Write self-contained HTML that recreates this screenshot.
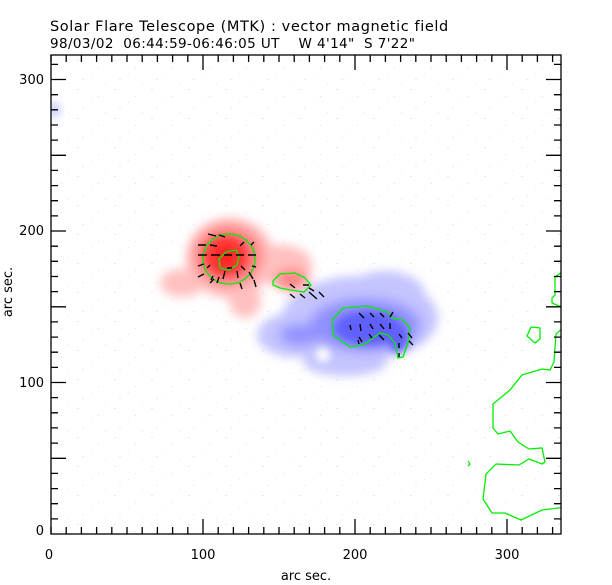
<!DOCTYPE html>
<html><head><meta charset="utf-8"><style>
html,body{margin:0;padding:0;background:#fff;}
svg{display:block;font-family:"DejaVu Sans","Liberation Sans",sans-serif;}
text{white-space:pre;}
</style></head><body>
<svg width="612" height="585" viewBox="0 0 612 585" xmlns="http://www.w3.org/2000/svg">
<defs>
<filter id="b8" x="-50%" y="-50%" width="200%" height="200%"><feGaussianBlur stdDeviation="6"/></filter>
<filter id="b5" x="-50%" y="-50%" width="200%" height="200%"><feGaussianBlur stdDeviation="4"/></filter>
<filter id="b12" x="-50%" y="-50%" width="200%" height="200%"><feGaussianBlur stdDeviation="5"/></filter>
<clipPath id="pc"><rect x="51" y="55" width="510" height="479"/></clipPath>
<pattern id="noise" width="37" height="29" patternUnits="userSpaceOnUse">
<rect x="3" y="2" width="2" height="1" fill="#e4e4ff"/><rect x="24" y="9" width="1" height="1" fill="#dcdcff"/><rect x="8" y="21" width="2" height="1" fill="#e8e8ff"/><rect x="31" y="25" width="1" height="1" fill="#e4e4ff"/><rect x="17" y="15" width="1" height="1" fill="#e8e8ff"/>
</pattern>
</defs>
<text x="50" y="31" font-size="14.5" letter-spacing="0.6" fill="#000">Solar Flare Telescope (MTK) : vector magnetic field</text>
<text x="50" y="48" font-size="13.5" letter-spacing="0.4" fill="#000">98/03/02  06:44:59-06:46:05 UT    W 4'14"  S 7'22"</text>
<g clip-path="url(#pc)">
<rect x="51" y="55" width="510" height="479" fill="url(#noise)"/>
<g filter="url(#b12)" fill="#c4c4ff">
<ellipse cx="360" cy="318" rx="78" ry="42"/>
<ellipse cx="295" cy="335" rx="38" ry="22"/>
<ellipse cx="385" cy="295" rx="40" ry="24"/>
<ellipse cx="345" cy="362" rx="42" ry="14"/>
</g>
<g filter="url(#b8)" fill="#9090ff">
<ellipse cx="365" cy="325" rx="55" ry="26"/>
<ellipse cx="300" cy="335" rx="20" ry="10"/>
</g>
<g filter="url(#b5)" fill="#6060ff">
<ellipse cx="368" cy="328" rx="34" ry="17"/>
<ellipse cx="398" cy="338" rx="10" ry="14"/>
</g>
<circle cx="323" cy="355" r="7" fill="#fff" filter="url(#b5)"/>
<g filter="url(#b12)" fill="#ffc0c0">
<ellipse cx="230" cy="258" rx="44" ry="40"/>
<ellipse cx="182" cy="283" rx="22" ry="14"/>
<ellipse cx="282" cy="265" rx="30" ry="20"/>
<ellipse cx="245" cy="300" rx="16" ry="18"/>
</g>
<g filter="url(#b8)" fill="#ff8080">
<ellipse cx="228" cy="256" rx="34" ry="30"/>
<ellipse cx="292" cy="280" rx="16" ry="10"/>
</g>
<g filter="url(#b5)" fill="#ff3a3a">
<ellipse cx="226" cy="256" rx="22" ry="20"/>
</g>
<g filter="url(#b5)" fill="#ff2020">
<ellipse cx="226" cy="256" rx="10" ry="10"/>
</g>
<ellipse cx="55" cy="110" rx="5" ry="8" fill="#c8c8ff" filter="url(#b5)"/>
<g fill="none" stroke="#00ee00" stroke-width="1.3">
<ellipse cx="229" cy="259" rx="26" ry="25"/>
<path d="M226,252 L236,250 L239,256 L237,265 L229,270 L220,268 L219,259 Z"/>
<path d="M273,281 L280,274 L295,273 L305,278 L311,285 L304,292 L290,290 L280,288 L273,285 Z"/>
<path d="M332,320 L343,308 L367,306 L388,312 L392,318 L403,320 L410,328 L408,343 L403,357 L398,358 L395,343 L388,335 L380,333 L363,345 L350,347 L333,335 Z"/>
<path d="M566,272 L562,272 L555,277 L555,295 L552,298 L552,303 L559,306 L567,309"/>
<path d="M566,325 L556,334 L554,362 L550,370 L542,369 L522,375 L510,390 L493,404 L493,428 L498,434 L510,431 L518,442 L529,449 L542,448 L545,462 L542,464 L529,459 L519,465 L496,464 L486,474 L483,499 L492,513 L505,513 L521,520 L542,510 L566,507"/>
<path d="M531,327 L540,328 L540,339 L535,343 L527,336 Z"/>
<path d="M468,461 L470,464 L468,466"/>
</g>
<g stroke="#000" stroke-width="1.4">
<path d="M208,234 l8,2 M219,235 l6,2 M198,245 l8,0 M210,245 l7,1 M240,246 l4,-4 M251,245 l3,-3 M198,255 l9,0 M211,255 l9,0 M224,255 l8,0 M236,255 l8,0 M248,255 l8,0 M198,266 l6,-2 M210,265 l-3,3 M227,268 l5,0 M241,266 l4,4 M252,266 l4,1 M198,277 l6,-3 M213,276 l-2,4 M225,271 l-2,8 M237,271 l1,7 M249,272 l4,7 M210,283 l4,-4 M217,283 l2,-6 M240,283 l2,6 M254,280 l2,7"/>
<path d="M290,284 l5,4 M303,285 l6,0 M309,288 l5,3 M290,294 l5,4 M300,294 l5,4 M309,292 l8,7 M319,292 l5,5"/>
<path d="M359,313 l5,5 M370,313 l4,4 M380,313 l4,4 M390,317 l3,-5 M350,325 l1,5 M360,324 l1,7 M370,324 l3,5 M380,324 l4,5 M390,323 l0,6 M359,337 l3,5 M369,334 l3,4 M379,335 l5,5 M399,334 l3,4 M408,333 l4,5 M359,344 l-1,-4 M399,343 l0,5 M409,341 l4,4 M399,353 l0,4"/>
</g>
</g>
<g stroke="#000" stroke-width="1.3" fill="none">
<rect x="51" y="55" width="510" height="479"/>
<path d="M51,534v-7 M66.2,534v-7 M81.4,534v-7 M96.6,534v-7 M111.8,534v-7 M127,534v-7 M142.2,534v-7 M157.4,534v-7 M172.6,534v-7 M187.8,534v-7 M203,534v-15 M218.2,534v-7 M233.4,534v-7 M248.6,534v-7 M263.8,534v-7 M279,534v-7 M294.2,534v-7 M309.4,534v-7 M324.6,534v-7 M339.8,534v-7 M355,534v-15 M370.2,534v-7 M385.4,534v-7 M400.6,534v-7 M415.8,534v-7 M431,534v-7 M446.2,534v-7 M461.4,534v-7 M476.6,534v-7 M491.8,534v-7 M507,534v-15 M522.2,534v-7 M537.4,534v-7 M552.6,534v-7"/>
<path d="M51,55v7 M66.2,55v7 M81.4,55v7 M96.6,55v7 M111.8,55v7 M127,55v7 M142.2,55v7 M157.4,55v7 M172.6,55v7 M187.8,55v7 M203,55v15 M218.2,55v7 M233.4,55v7 M248.6,55v7 M263.8,55v7 M279,55v7 M294.2,55v7 M309.4,55v7 M324.6,55v7 M339.8,55v7 M355,55v15 M370.2,55v7 M385.4,55v7 M400.6,55v7 M415.8,55v7 M431,55v7 M446.2,55v7 M461.4,55v7 M476.6,55v7 M491.8,55v7 M507,55v15 M522.2,55v7 M537.4,55v7 M552.6,55v7"/>
<path d="M51,518.9h7 M51,503.7h7 M51,488.6h7 M51,473.4h7 M51,458.3h15 M51,443.1h7 M51,427.9h7 M51,412.8h7 M51,397.6h7 M51,382.5h15 M51,367.4h7 M51,352.2h7 M51,337.1h7 M51,321.9h7 M51,306.8h15 M51,291.6h7 M51,276.5h7 M51,261.3h7 M51,246.2h7 M51,231h15 M51,215.9h7 M51,200.7h7 M51,185.6h7 M51,170.4h7 M51,155.3h15 M51,140.1h7 M51,125h7 M51,109.8h7 M51,94.7h7 M51,79.5h15 M51,64.4h7"/>
<path d="M561,518.9h-7 M561,503.7h-7 M561,488.6h-7 M561,473.4h-7 M561,458.3h-15 M561,443.1h-7 M561,427.9h-7 M561,412.8h-7 M561,397.6h-7 M561,382.5h-15 M561,367.4h-7 M561,352.2h-7 M561,337.1h-7 M561,321.9h-7 M561,306.8h-15 M561,291.6h-7 M561,276.5h-7 M561,261.3h-7 M561,246.2h-7 M561,231h-15 M561,215.9h-7 M561,200.7h-7 M561,185.6h-7 M561,170.4h-7 M561,155.3h-15 M561,140.1h-7 M561,125h-7 M561,109.8h-7 M561,94.7h-7 M561,79.5h-15 M561,64.4h-7"/>
</g>
<g font-size="13" fill="#000">
<text x="49" y="559" text-anchor="middle">0</text>
<text x="203" y="559" text-anchor="middle">100</text>
<text x="355" y="559" text-anchor="middle">200</text>
<text x="507" y="559" text-anchor="middle">300</text>
<text x="44" y="535" text-anchor="end">0</text>
<text x="44" y="387" text-anchor="end">100</text>
<text x="44" y="235" text-anchor="end">200</text>
<text x="44" y="84" text-anchor="end">300</text>
<text x="306" y="580" text-anchor="middle">arc sec.</text>
<text transform="translate(12,292) rotate(-90)" text-anchor="middle">arc sec.</text>
</g>
</svg>
</body></html>
